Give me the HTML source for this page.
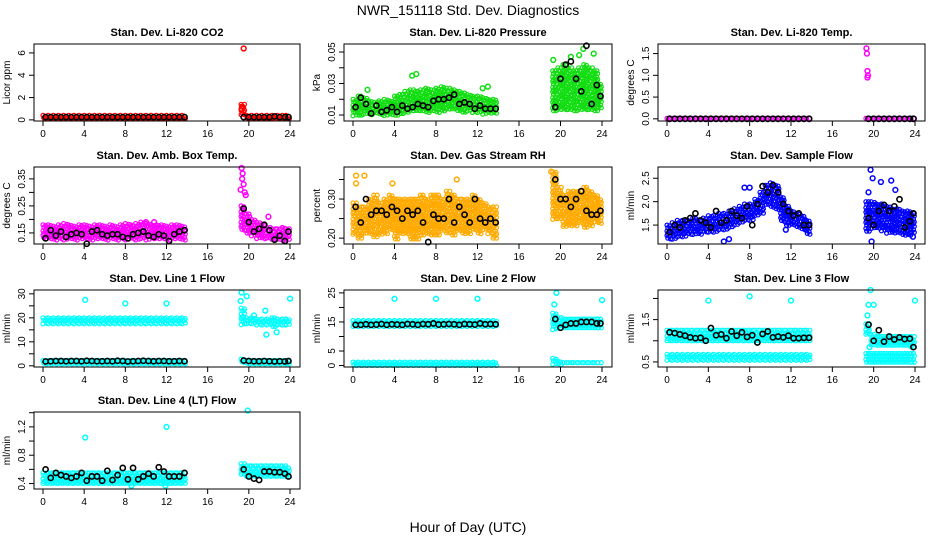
<!DOCTYPE html>
<html><head><meta charset="utf-8">
<style>
body{margin:0;background:#fff;}
svg{display:block;font-family:"Liberation Sans",sans-serif;}
</style></head>
<body>
<svg id="chart" width="936" height="540" viewBox="0 0 936 540" xmlns="http://www.w3.org/2000/svg">
<rect width="936" height="540" fill="#fff"/>
<text x="468" y="15" text-anchor="middle" font-size="14">NWR_151118 Std. Dev. Diagnostics</text>
<text x="468" y="532" text-anchor="middle" font-size="14">Hour of Day (UTC)</text>
</svg>
<script>
const hours=[0.25,0.75,1.25,1.75,2.25,2.75,3.25,3.75,4.25,4.75,5.25,5.75,6.25,6.75,7.25,7.75,8.25,8.75,9.25,9.75,10.25,10.75,11.25,11.75,12.25,12.75,13.25,13.75,19.5,20,20.5,21,21.5,22,22.5,23,23.5,23.85];
const xTicks=[0,4,8,12,16,20,24];

const co2Lo=[0.15,0.15,0.15,0.15,0.15,0.15,0.15,0.15,0.15,0.15,0.15,0.15,0.15,0.15,0.15,0.15,0.15,0.15,0.15,0.15,0.15,0.15,0.15,0.15,0.15,0.15,0.15,0.15,0.3,0.15,0.15,0.15,0.15,0.15,0.15,0.15,0.15,0.15];
const co2Hi=[0.4,0.4,0.4,0.4,0.4,0.4,0.4,0.4,0.4,0.4,0.4,0.4,0.4,0.4,0.4,0.4,0.4,0.4,0.4,0.4,0.4,0.4,0.4,0.4,0.4,0.4,0.4,0.4,1.4,0.4,0.4,0.4,0.4,0.4,0.4,0.4,0.4,0.4];
const co2Mean=[0.25,0.25,0.25,0.25,0.25,0.25,0.25,0.25,0.25,0.25,0.25,0.25,0.25,0.25,0.25,0.25,0.25,0.25,0.25,0.25,0.25,0.25,0.25,0.25,0.25,0.25,0.25,0.25,0.25,0.25,0.25,0.25,0.25,0.25,0.3,0.25,0.25,0.25];
const co2Out=[[19.5,6.4],[19.35,1.2],[19.3,1.0]];

const presLo=[0.010,0.010,0.010,0.010,0.010,0.010,0.010,0.010,0.010,0.011,0.011,0.012,0.012,0.012,0.012,0.012,0.012,0.012,0.013,0.013,0.013,0.012,0.012,0.011,0.011,0.011,0.011,0.011,0.013,0.013,0.013,0.013,0.013,0.013,0.013,0.013,0.013,0.015];
const presHi=[0.020,0.022,0.021,0.019,0.018,0.019,0.020,0.019,0.022,0.023,0.025,0.026,0.025,0.026,0.027,0.026,0.027,0.028,0.027,0.026,0.025,0.024,0.023,0.022,0.022,0.021,0.020,0.020,0.038,0.040,0.042,0.040,0.038,0.040,0.042,0.040,0.038,0.030];
const presMean=[0.015,0.021,0.017,0.011,0.016,0.012,0.013,0.015,0.012,0.016,0.014,0.015,0.017,0.016,0.015,0.019,0.020,0.020,0.021,0.023,0.017,0.018,0.017,0.014,0.016,0.014,0.014,0.014,0.015,0.033,0.042,0.044,0.033,0.025,0.054,0.017,0.029,0.022];
const presOut=[[5.7,0.035],[6.1,0.036],[19.3,0.045],[21,0.047],[21.8,0.048],[22.2,0.052],[23.2,0.049],[1.4,0.026],[12.5,0.027],[13,0.028]];

const tempLo=[0,0,0,0,0,0,0,0,0,0,0,0,0,0,0,0,0,0,0,0,0,0,0,0,0,0,0,0,0,0,0,0,0,0,0,0,0,0];
const tempHi=[0.01,0.01,0.01,0.01,0.01,0.01,0.01,0.01,0.01,0.01,0.01,0.01,0.01,0.01,0.01,0.01,0.01,0.01,0.01,0.01,0.01,0.01,0.01,0.01,0.01,0.01,0.01,0.01,0.01,0.01,0.01,0.01,0.01,0.01,0.01,0.01,0.01,0.01];
const tempMean=[0,0,0,0,0,0,0,0,0,0,0,0,0,0,0,0,0,0,0,0,0,0,0,0,0,0,0,0,0,0,0,0,0,0,0,0,0,0];
const tempOut=[[19.3,1.62],[19.35,1.5],[19.4,1.1],[19.45,1.0],[19.4,0.95]];

const ambLo=[0.125,0.125,0.125,0.125,0.125,0.125,0.125,0.125,0.125,0.125,0.125,0.125,0.125,0.125,0.125,0.125,0.125,0.125,0.125,0.125,0.125,0.125,0.125,0.125,0.125,0.125,0.125,0.125,0.155,0.15,0.135,0.13,0.125,0.125,0.12,0.12,0.12,0.12];
const ambHi=[0.18,0.18,0.175,0.18,0.185,0.18,0.175,0.18,0.18,0.175,0.18,0.18,0.175,0.18,0.175,0.18,0.185,0.18,0.185,0.19,0.185,0.18,0.18,0.18,0.175,0.18,0.18,0.175,0.25,0.22,0.2,0.19,0.18,0.17,0.165,0.165,0.17,0.165];
const ambMean=[0.13,0.16,0.14,0.155,0.135,0.145,0.15,0.145,0.11,0.155,0.16,0.145,0.14,0.145,0.145,0.135,0.13,0.145,0.15,0.155,0.14,0.135,0.145,0.14,0.12,0.145,0.155,0.16,0.24,0.19,0.155,0.165,0.18,0.16,0.125,0.14,0.12,0.155];
const ambOut=[[19.3,0.39],[19.4,0.37],[19.35,0.35],[19.2,0.31],[19.5,0.33],[19.6,0.3],[19.7,0.29],[21.9,0.21],[10,0.19],[10.8,0.19]];

const rhLo=[0.21,0.2,0.21,0.21,0.2,0.21,0.21,0.22,0.2,0.21,0.21,0.2,0.2,0.21,0.21,0.21,0.21,0.22,0.21,0.21,0.22,0.21,0.21,0.22,0.21,0.22,0.21,0.2,0.25,0.25,0.23,0.23,0.23,0.24,0.23,0.23,0.24,0.24];
const rhHi=[0.29,0.28,0.28,0.3,0.31,0.29,0.3,0.31,0.3,0.3,0.3,0.3,0.3,0.31,0.3,0.31,0.31,0.3,0.32,0.31,0.3,0.3,0.3,0.31,0.3,0.29,0.28,0.28,0.37,0.33,0.31,0.32,0.32,0.32,0.33,0.32,0.31,0.3];
const rhMean=[0.28,0.24,0.3,0.26,0.27,0.27,0.26,0.28,0.27,0.25,0.27,0.26,0.27,0.24,0.19,0.26,0.25,0.25,0.3,0.24,0.28,0.26,0.24,0.3,0.25,0.24,0.25,0.24,0.35,0.3,0.3,0.28,0.3,0.32,0.27,0.26,0.26,0.27];
const rhOut=[[0.3,0.36],[1.1,0.36],[10,0.35],[3.8,0.34],[19.1,0.37],[0.3,0.34]];

const flowLo=[1.2,1.2,1.25,1.25,1.3,1.3,1.3,1.35,1.35,1.35,1.4,1.4,1.45,1.5,1.55,1.6,1.6,1.7,1.75,1.95,1.9,1.85,1.6,1.5,1.5,1.45,1.4,1.3,1.35,1.4,1.4,1.35,1.3,1.35,1.35,1.3,1.3,1.35];
const flowHi=[1.5,1.55,1.6,1.6,1.6,1.65,1.6,1.65,1.7,1.7,1.75,1.75,1.8,1.85,1.9,1.95,1.95,2.05,2.2,2.35,2.4,2.35,2.1,1.9,1.8,1.75,1.7,1.6,2.0,2.0,1.95,1.95,1.9,1.85,1.85,1.8,1.8,1.75];
const flowMean=[1.35,1.5,1.45,1.6,1.65,1.75,1.6,1.55,1.45,1.8,1.55,1.6,1.8,1.7,1.65,1.9,1.5,1.95,2.33,2.2,2.35,2.2,1.95,1.8,1.7,1.75,1.5,1.5,1.65,1.5,1.8,1.93,1.8,1.9,2.05,1.45,1.58,1.75];
const flowOut=[[19.7,2.68],[19.9,2.5],[19.5,2.2],[20.7,2.42],[21.7,2.45],[22.1,2.25],[19.8,1.15],[23.8,1.25],[5.5,1.15],[6,1.2],[11.5,1.4],[7.5,2.3],[8,2.3]];

const l1ALo=[17,17,17,17,17,17,17,17,17,17,17,17,17,17,17,17,17,17,17,17,17,17,17,17,17,17,17,17,17,17,17,17,16.5,16.5,16.5,16.5,17,17];
const l1AHi=[20,20,20,20,20,20,20,20,20,20,20,20,20,20,20,20,20,20,20,20,20,20,20,20,20,20,20,20,24,20,20,19.5,19.5,19.5,20,19.5,19.5,19.5];
const l1BLo=[0.8,0.8,0.8,0.8,0.8,0.8,0.8,0.8,0.8,0.8,0.8,0.8,0.8,0.8,0.8,0.8,0.8,0.8,0.8,0.8,0.8,0.8,0.8,0.8,0.8,0.8,0.8,0.8,1.2,1,1,1,1,1,1,1,1,1];
const l1BHi=[2.2,2.2,2.2,2.2,2.2,2.2,2.2,2.2,2.2,2.2,2.2,2.2,2.2,2.2,2.2,2.2,2.2,2.2,2.2,2.2,2.2,2.2,2.2,2.2,2.2,2.2,2.2,2.2,2.8,2.2,2.2,2.2,2.2,2.2,2.2,2.2,2.2,2.2];
const l1Mean=[1.8,1.9,2,2,1.9,2,2,1.9,2.1,2,1.9,1.9,2,1.9,2.1,2,1.8,1.9,2,2.1,2,1.9,2,2,1.9,1.9,2,1.9,2.2,2,1.9,1.9,2,1.9,1.8,1.9,1.8,2];
const l1Out=[[4.1,27.5],[8,26],[12,26],[19.2,27],[19.3,30.5],[19.8,29],[20.5,21],[21.6,23],[21.7,13],[22.7,14],[24,28]];

const l2ALo=[13,13,13,13,13,13,13,13,13,13,13,13,13,13,13,13,13,13,13,13,13,13,13,13,13,13,13,13,12,12.5,13,13,13,13,13,13,13,13];
const l2AHi=[15.5,15.5,15.5,15.5,15.5,15.5,15.5,15.5,15.5,15.5,15.5,15.5,15.5,15.5,15.5,15.5,15.5,15.5,15.5,15.5,15.5,15.5,15.5,15.5,15.5,15.5,15.5,15.5,18,16.5,16,16,16,16,16,16,16,16];
const l2BLo=[0,0,0,0,0,0,0,0,0,0,0,0,0,0,0,0,0,0,0,0,0,0,0,0,0,0,0,0,0.5,0.3,0.3,0.3,0.3,0.3,0.3,0.3,0.3,0.3];
const l2BHi=[1.2,1.2,1.2,1.2,1.2,1.2,1.2,1.2,1.2,1.2,1.2,1.2,1.2,1.2,1.2,1.2,1.2,1.2,1.2,1.2,1.2,1.2,1.2,1.2,1.2,1.2,1.2,1.2,2.5,1.5,1,1,1,1,1,1,1,1];
const l2Mean=[14,14,14.2,14,14.1,14.3,14,14.2,14.1,14,14.3,14.2,14,14.3,14.2,14.5,14.1,14.2,14.3,14.2,14,14.3,14.2,14.1,14.5,14.2,14.3,14.2,16,13,14,14.5,14.5,15,15,15,14.5,14.5];
const l2Out=[[4,23],[8,23],[12,23],[19.6,25],[19.4,21],[24,22.5]];

const l3ALo=[0.95,0.95,0.95,0.95,0.95,0.95,0.95,0.95,0.95,0.95,0.95,0.95,0.95,0.95,0.95,0.95,0.95,0.95,0.95,0.95,0.95,0.95,0.95,0.95,0.95,0.95,0.95,0.95,1.1,0.9,0.9,0.9,0.9,0.9,0.9,0.9,0.9,0.85];
const l3AHi=[1.25,1.25,1.25,1.25,1.25,1.25,1.25,1.25,1.25,1.25,1.25,1.25,1.25,1.25,1.25,1.25,1.25,1.25,1.25,1.25,1.25,1.25,1.25,1.25,1.25,1.25,1.25,1.25,1.4,1.15,1.1,1.1,1.1,1.1,1.1,1.1,1.1,1.1];
const l3BLo=[0.52,0.52,0.52,0.52,0.52,0.52,0.52,0.52,0.52,0.52,0.52,0.52,0.52,0.52,0.52,0.52,0.52,0.52,0.52,0.52,0.52,0.52,0.52,0.52,0.52,0.52,0.52,0.52,0.5,0.5,0.5,0.5,0.5,0.5,0.5,0.5,0.5,0.5];
const l3BHi=[0.68,0.68,0.68,0.68,0.68,0.68,0.68,0.68,0.68,0.68,0.68,0.68,0.68,0.68,0.68,0.68,0.68,0.68,0.68,0.68,0.68,0.68,0.68,0.68,0.68,0.68,0.68,0.68,0.7,0.7,0.7,0.7,0.7,0.7,0.7,0.7,0.7,0.7];
const l3Mean=[1.2,1.18,1.15,1.12,1.08,1.06,1.07,1.0,1.3,1.13,1.15,1.06,1.22,1.12,1.2,1.09,1.13,0.96,1.16,1.22,1.08,1.1,1.08,1.12,1.06,1.06,1.07,1.07,1.38,1.0,1.25,0.98,1.1,1.03,1.08,1.04,1.05,0.85];
const l3Out=[[4,1.95],[8,2.05],[12,1.95],[19.5,1.85],[19.7,2.2],[20,1.85],[19.4,1.6],[19.6,0.85],[24,1.95]];

const l4Lo=[0.4,0.4,0.4,0.4,0.4,0.4,0.4,0.4,0.4,0.4,0.4,0.4,0.4,0.4,0.4,0.4,0.4,0.4,0.4,0.4,0.4,0.4,0.4,0.4,0.4,0.4,0.4,0.4,0.5,0.5,0.5,0.5,0.5,0.5,0.5,0.5,0.5,0.5];
const l4Hi=[0.55,0.55,0.55,0.55,0.55,0.55,0.55,0.55,0.55,0.55,0.55,0.55,0.55,0.55,0.55,0.55,0.55,0.55,0.55,0.55,0.55,0.55,0.55,0.55,0.55,0.55,0.55,0.55,0.68,0.65,0.65,0.65,0.65,0.65,0.65,0.65,0.65,0.62];
const l4Mean=[0.6,0.48,0.55,0.52,0.5,0.48,0.5,0.55,0.44,0.5,0.5,0.44,0.58,0.45,0.52,0.62,0.46,0.62,0.46,0.5,0.54,0.5,0.63,0.57,0.5,0.5,0.5,0.55,0.6,0.5,0.47,0.45,0.57,0.57,0.56,0.56,0.54,0.5];
const l4Out=[[4.1,1.05],[12,1.2],[19.9,1.43],[8.6,0.37],[11.9,0.37]];

const NS='http://www.w3.org/2000/svg';
const svg=document.getElementById('chart');
function mk(tag,attrs,parent){const e=document.createElementNS(NS,tag);for(const k in attrs)e.setAttribute(k,attrs[k]);(parent||svg).appendChild(e);return e;}

const panels=[
 {id:'co2',title:'Stan. Dev. Li-820 CO2',yt:'Licor ppm',col:'#ff0000',c:0,r:0,y0:-0.1,y1:6.8,ticks:[0,2,4,6],labels:['0','2','4','6'],bands:[[co2Lo,co2Hi]],mean:co2Mean,out:co2Out},
 {id:'pressure',title:'Stan. Dev. Li-820 Pressure',yt:'kPa',col:'#11dd11',c:1,r:0,y0:0.0062,y1:0.0551,ticks:[0.01,0.02,0.03,0.04,0.05],labels:['0.01','','0.03','','0.05'],bands:[[presLo,presHi]],mean:presMean,out:presOut},
 {id:'temp',title:'Stan. Dev. Li-820 Temp.',yt:'degrees C',col:'#ff00ff',c:2,r:0,y0:-0.05,y1:1.72,ticks:[0,0.5,1,1.5],labels:['0.0','0.5','1.0','1.5'],bands:[[tempLo,tempHi]],mean:tempMean,out:tempOut},
 {id:'amb-box-temp',title:'Stan. Dev. Amb. Box Temp.',yt:'degrees C',col:'#ff00ff',c:0,r:1,y0:0.109,y1:0.394,ticks:[0.15,0.2,0.25,0.3,0.35],labels:['0.15','','0.25','','0.35'],bands:[[ambLo,ambHi]],mean:ambMean,out:ambOut},
 {id:'gas-stream-rh',title:'Stan. Dev. Gas Stream RH',yt:'percent',col:'#ffaa00',c:1,r:1,y0:0.185,y1:0.382,ticks:[0.2,0.25,0.3,0.35],labels:['0.20','','0.30',''],bands:[[rhLo,rhHi]],mean:rhMean,out:rhOut},
 {id:'sample-flow',title:'Stan. Dev. Sample Flow',yt:'ml/min',col:'#0000ff',c:2,r:1,y0:1.096,y1:2.74,ticks:[1.5,2,2.5],labels:['1.5','2.0','2.5'],bands:[[flowLo,flowHi]],mean:flowMean,out:flowOut},
 {id:'line1-flow',title:'Stan. Dev. Line 1 Flow',yt:'ml/min',col:'#00ffff',c:0,r:2,y0:-0.5,y1:31.6,ticks:[0,5,10,15,20,25,30],labels:['0','','10','','20','','30'],bands:[[l1ALo,l1AHi],[l1BLo,l1BHi]],mean:l1Mean,out:l1Out},
 {id:'line2-flow',title:'Stan. Dev. Line 2 Flow',yt:'ml/min',col:'#00ffff',c:1,r:2,y0:-0.5,y1:26,ticks:[0,5,10,15,20,25],labels:['0','5','','15','','25'],bands:[[l2ALo,l2AHi],[l2BLo,l2BHi]],mean:l2Mean,out:l2Out},
 {id:'line3-flow',title:'Stan. Dev. Line 3 Flow',yt:'ml/min',col:'#00ffff',c:2,r:2,y0:0.38,y1:2.2,ticks:[0.5,1,1.5,2],labels:['0.5','','1.5',''],bands:[[l3ALo,l3AHi],[l3BLo,l3BHi]],mean:l3Mean,out:l3Out},
 {id:'line4-flow',title:'Stan. Dev. Line 4 (LT) Flow',yt:'ml/min',col:'#00ffff',c:0,r:3,y0:0.323,y1:1.41,ticks:[0.4,0.6,0.8,1,1.2,1.4],labels:['0.4','','0.8','','1.2',''],bands:[[l4Lo,l4Hi]],mean:l4Mean,out:l4Out}
];
const colL=[34,344,658], colW=[266,268,267], rowT=[44,167,290,412], BH=77;

panels.forEach(p=>{
  const L=colL[p.c], W=colW[p.c], T=rowT[p.r], B=T+BH;
  const xs=h=>L+9+h*(W-19)/24;
  const ys=v=>B-(v-p.y0)/(p.y1-p.y0)*BH;
  const g=mk('g',{});
  
  
  const t=mk('text',{x:L+W/2,y:T-8,'text-anchor':'middle','font-size':11,'font-weight':'bold'},g);
  t.textContent=p.title;
  
  
  const clip=mk('g',{},g);
  
  
  // bands
  p.bands.forEach(bd=>{
    hours.forEach((h,i)=>{
      const lo=bd[0][i], hi=bd[1][i];
      const x1=xs(h-0.25), x2=xs(h+0.25);
      const ya=ys(hi), yb=ys(lo);
      let k=0;
      for(let x=x1;x<=x2;x+=2.6){
        for(let y=ya;y<=yb+0.01;y+=2.6){
          const c=mk('circle',{cx:(x+(k%2)*0.8).toFixed(1),cy:(y+((k>>1)%2)*0.8).toFixed(1),r:2,fill:'none',stroke:p.col,'stroke-width':1.2},clip);
          
          
          k++;
        }
      }
    });
  });
  p.out.forEach(o=>{
    const c=mk('circle',{cx:xs(o[0]),cy:ys(o[1]),r:2.4,fill:'none',stroke:p.col,'stroke-width':1.5},clip);
    
    
  });
  p.mean.forEach((v,i)=>{
    const c=mk('circle',{cx:xs(hours[i]),cy:ys(v),r:2.6,fill:'none',stroke:'#000','stroke-width':1.6},clip);
    
    
  });
  const box=mk('rect',{x:L,y:T,width:W,height:BH,fill:'none',stroke:'#000','stroke-width':1},g);
  
  
  xTicks.forEach(h=>{
    mk('line',{x1:xs(h),x2:xs(h),y1:B,y2:B+5,stroke:'#000'},g);
    const tl=mk('text',{x:xs(h),y:B+16,'text-anchor':'middle','font-size':10},g);
    tl.textContent=h;
    
    
  });
  p.ticks.forEach((v,i)=>{
    mk('line',{x1:L-5,x2:L,y1:ys(v),y2:ys(v),stroke:'#000'},g);
    if(p.labels[i]){
      const yy=ys(v);
      const tl=mk('text',{x:L-9,y:yy,'text-anchor':'middle','font-size':10,transform:`rotate(-90 ${L-9} ${yy})`},g);
      tl.textContent=p.labels[i];
      
      
    }
  });
  const ym=T+BH/2;
  const yt=mk('text',{x:L-24,y:ym,'text-anchor':'middle','font-size':10,transform:`rotate(-90 ${L-24} ${ym})`},g);
  yt.textContent=p.yt;
  
  
});
</script>
</body></html>
